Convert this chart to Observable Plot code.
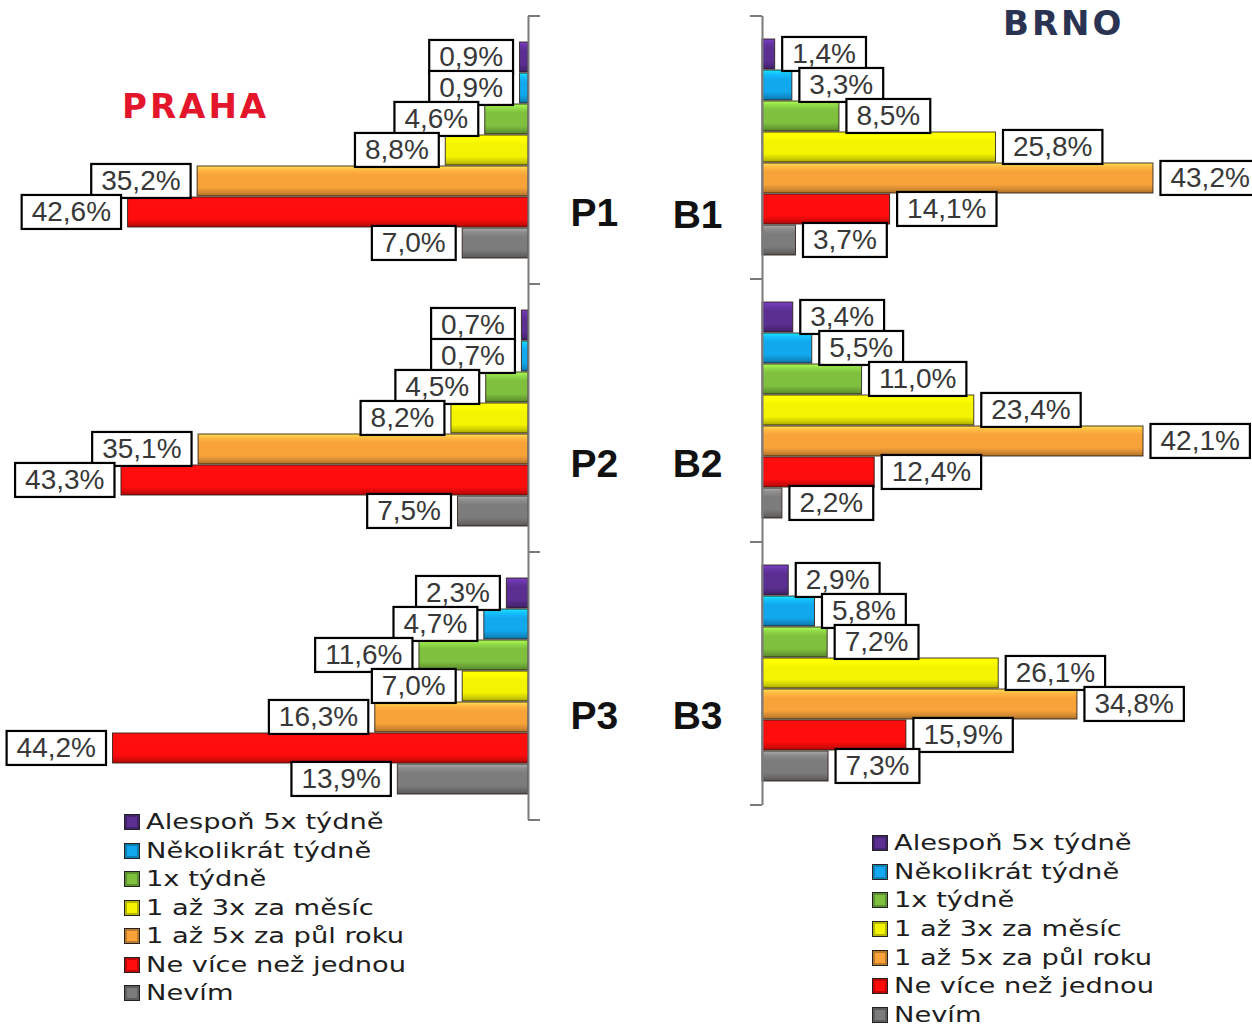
<!DOCTYPE html>
<html><head><meta charset="utf-8">
<script src="https://cdn.jsdelivr.net/npm/d3@7"></script>
<script src="https://cdn.jsdelivr.net/npm/@observablehq/plot@0.6"></script>
<style>
body{margin:0;background:#fff;}
#root{position:relative;width:1252px;height:1029px;overflow:hidden;font-family:"DejaVu Sans",sans-serif;}
#root svg.city{position:absolute;top:0;overflow:visible;}
.title{position:absolute;font-weight:bold;font-size:34px;line-height:34px;letter-spacing:3px;white-space:nowrap;}
.legend{position:absolute;font-size:22px;color:#1e1e1e;}
.legend .row{display:flex;align-items:center;white-space:nowrap;}
.legend .sw{width:14px;height:14px;border:1.5px solid #222;margin-right:6px;box-shadow:inset 0 0 0 2px rgba(0,0,0,.25);flex:none;}
.legend .tx{display:inline-block;transform:scaleX(1.24);transform-origin:left center;line-height:22px;}
</style></head><body>
<svg width="0" height="0" style="position:absolute"><defs id="gdefs"></defs></svg>
<div id="root">
  <div class="title" id="tPraha" style="left:122px;top:89px;color:#e3162c;">PRAHA</div>
  <div class="title" id="tBrno" style="left:1003px;top:6px;color:#2a3352;">BRNO</div>
  <div class="legend" id="legPraha" style="left:124px;top:808px;"></div>
  <div class="legend" id="legBrno" style="left:872px;top:829px;"></div>
</div>
<script>
// ---- data ----
const categories = ["Alespoň 5x týdně","Několikrát týdně","1x týdně","1 až 3x za měsíc","1 až 5x za půl roku","Ne více než jednou","Nevím"];
const colors = ["#5b2f92","#12a8ee","#7fc03f","#f4f400","#f8a23a","#ff0c0c","#7c7c7c"];
const prahaGroups = ["P1","P2","P3"];
const brnoGroups = ["B1","B2","B3"];
const P1 = [0.9, 0.9, 4.6, 8.8, 35.2, 42.6, 7.0];
const P2 = [0.7, 0.7, 4.5, 8.2, 35.1, 43.3, 7.5];
const P3 = [2.3, 4.7, 11.6, 7.0, 16.3, 44.2, 13.9];
const B1 = [1.4, 3.3, 8.5, 25.8, 43.2, 14.1, 3.7];
const B2 = [3.4, 5.5, 11.0, 23.4, 42.1, 12.4, 2.2];
const B3 = [2.9, 5.8, 7.2, 26.1, 34.8, 15.9, 7.3];

const fmt = v => v.toFixed(1).replace(".", ",") + "%";
const rows = (groups, series) => groups.flatMap((g, i) => categories.map((c, j) => ({group: g, category: c, value: series[i][j]})));
const prahaData = rows(prahaGroups, [P1, P2, P3]);
const brnoData = rows(brnoGroups, [B1, B2, B3]);

// ---- gradients for glossy bars ----
const defs = d3.select("#gdefs");
const gradIds = colors.map((c, i) => {
  const id = "grad" + i;
  const lg = defs.append("linearGradient").attr("id", id).attr("x1", 0).attr("y1", 0).attr("x2", 0).attr("y2", 1);
  const base = d3.color(c);
  [[0, base.brighter(0.9)], [0.14, base.brighter(0.35)], [0.3, base], [0.72, base], [0.9, base.darker(0.55)], [1, base.darker(1.1)]]
    .forEach(([o, col]) => lg.append("stop").attr("offset", o).attr("stop-color", col.formatHex()));
  return `url(#${id})`;
});

const tickMarks = dir => (index, scales, values, dims) => {
  const x0 = scales.x(0);
  const top = dims.marginTop, bottom = dims.height - dims.marginBottom;
  const g = d3.create("svg:g").attr("stroke", "#7a7a7a").attr("stroke-width", 2);
  for (const y of [top, bottom]) g.append("line").attr("x1", x0).attr("x2", x0 + dir * 12).attr("y1", y).attr("y2", y);
  return g.node();
};

const labelFont = {fontSize: 28, fontFamily: "Liberation Sans, Arial, sans-serif", fill: "#383838"};
const groupFont = {fontSize: 39, fontWeight: "bold", fontFamily: "Liberation Sans, Arial, sans-serif", fill: "#111"};

// ---- PRAHA ----
const prahaAnchor = [5, 5, 4], prahaDy = [1, -16, -1];
const praha = Plot.plot({
  width: 640, height: 830,
  marginLeft: 58, marginRight: 112, marginTop: 15, marginBottom: 10,
  style: {background: "transparent", overflow: "visible"},
  x: {domain: [0, 50], reverse: true, axis: null},
  y: {domain: categories, axis: null, padding: 0.02, insetTop: 23, insetBottom: 23},
  fy: {domain: prahaGroups, axis: null, padding: 0},
  color: {domain: categories, range: gradIds},
  marks: [
    Plot.barX(prahaData, {x: "value", y: "category", fy: "group", fill: "category", stroke: "#2a1c14", strokeWidth: 1, strokeOpacity: 0.85}),
    Plot.ruleX([0], {stroke: "#7a7a7a", strokeWidth: 2}),
    tickMarks(1),
    Plot.text(prahaData, {x: "value", y: "category", fy: "group", text: d => fmt(d.value), textAnchor: "end", dx: -17, ...labelFont}),
    ...prahaGroups.map((g, i) => Plot.text([g], {fy: d => d, x: d => 0, y: d => categories[prahaAnchor[i]], text: d => d, textAnchor: "start", dx: 42, dy: prahaDy[i], ...groupFont}))
  ]
});
praha.classList.add("city");
praha.style.left = "0px";
document.getElementById("root").appendChild(praha);

// ---- BRNO ----
const brnoAnchor = [5, 5, 4], brnoDy = [6, -8, 12];
const brno = Plot.plot({
  width: 612, height: 815,
  marginLeft: 122, marginRight: 37.5, marginTop: 15, marginBottom: 10,
  style: {background: "transparent", overflow: "visible"},
  x: {domain: [0, 50], axis: null},
  y: {domain: categories, axis: null, padding: 0.02, insetTop: 22.5, insetBottom: 22.5},
  fy: {domain: brnoGroups, axis: null, padding: 0},
  color: {domain: categories, range: gradIds},
  marks: [
    Plot.barX(brnoData, {x: "value", y: "category", fy: "group", fill: "category", stroke: "#2a1c14", strokeWidth: 1, strokeOpacity: 0.85}),
    Plot.ruleX([0], {stroke: "#7a7a7a", strokeWidth: 2}),
    tickMarks(-1),
    Plot.text(brnoData, {x: "value", y: "category", fy: "group", text: d => fmt(d.value), textAnchor: "start", dx: 17, ...labelFont}),
    ...brnoGroups.map((g, i) => Plot.text([g], {fy: d => d, x: d => 0, y: d => categories[brnoAnchor[i]], text: d => d, textAnchor: "end", dx: -40, dy: brnoDy[i], ...groupFont}))
  ]
});
brno.classList.add("city");
brno.style.left = "640px";
document.getElementById("root").appendChild(brno);

// ---- white boxes around value labels ----
for (const svg of [praha, brno]) {
  svg.querySelectorAll("text").forEach(t => {
    if (!t.textContent.endsWith("%")) return;
    const b = t.getBBox();
    const cy = b.y + b.height / 2;
    const r = document.createElementNS("http://www.w3.org/2000/svg", "rect");
    r.setAttribute("x", b.x - 10);
    r.setAttribute("y", cy - 17);
    r.setAttribute("width", b.width + 20);
    r.setAttribute("height", 34);
    r.setAttribute("fill", "#fff");
    r.setAttribute("stroke", "#000");
    r.setAttribute("stroke-width", 2.2);
    const tr = t.getAttribute("transform");
    if (tr) r.setAttribute("transform", tr);
    t.parentNode.insertBefore(r, t);
  });
}

// ---- legends ----
function legend(id, rowH) {
  const el = document.getElementById(id);
  categories.forEach((c, i) => {
    const row = document.createElement("div");
    row.className = "row";
    row.style.height = rowH + "px";
    const sw = document.createElement("span");
    sw.className = "sw";
    sw.style.background = colors[i];
    const tx = document.createElement("span");
    tx.className = "tx";
    tx.textContent = c;
    row.append(sw, tx);
    el.appendChild(row);
  });
}
legend("legPraha", 28.5);
legend("legBrno", 28.6);
</script>
</body></html>
